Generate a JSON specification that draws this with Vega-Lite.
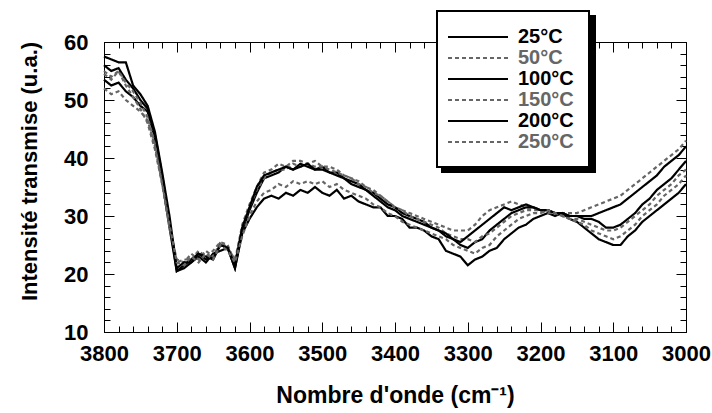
{
"$schema": "https://vega.github.io/schema/vega-lite/v6.json",
"width": 582, "height": 290,
"autosize": {"type": "none"},
"padding": {"left": 104, "top": 42, "right": 26, "bottom": 81},
"background": "white",
"config": {
  "font": "Liberation Sans",
  "view": {"stroke": null},
  "axis": {"grid": false, "tickColor": "#000", "domainColor": "#000", "domainWidth": 1, "tickWidth": 1, "labelFont": "Liberation Sans", "labelFontSize": 22, "labelFontWeight": "bold", "labelColor": "#000", "titleFont": "Liberation Sans", "titleFontWeight": "bold", "titleColor": "#000", "labelFlush": false, "labelOverlap": false},
  "legend": {"orient": "none", "symbolType": "M-3,0H3", "symbolSize": 400, "symbolStrokeWidth": 2, "labelFont": "Liberation Sans", "labelFontSize": 20, "labelFontWeight": "bold", "padding": 15, "rowPadding": 0, "symbolOffset": 15, "labelOffset": 29, "labelLimit": 0}
},
"data": {"values": [
{"T":"25°C","w":3800,"v":53.5},{"T":"25°C","w":3790,"v":52.5},{"T":"25°C","w":3780,"v":53},{"T":"25°C","w":3770,"v":51.5},{"T":"25°C","w":3760,"v":50.5},{"T":"25°C","w":3750,"v":49},{"T":"25°C","w":3740,"v":48},{"T":"25°C","w":3730,"v":43.5},{"T":"25°C","w":3720,"v":36},{"T":"25°C","w":3710,"v":28},{"T":"25°C","w":3700,"v":20.5},{"T":"25°C","w":3690,"v":21},{"T":"25°C","w":3680,"v":22},{"T":"25°C","w":3670,"v":23},{"T":"25°C","w":3660,"v":22},{"T":"25°C","w":3650,"v":23.5},{"T":"25°C","w":3640,"v":24},{"T":"25°C","w":3630,"v":24.5},{"T":"25°C","w":3620,"v":21},{"T":"25°C","w":3610,"v":27},{"T":"25°C","w":3600,"v":29.5},{"T":"25°C","w":3590,"v":31.5},{"T":"25°C","w":3580,"v":33},{"T":"25°C","w":3570,"v":33.5},{"T":"25°C","w":3560,"v":33},{"T":"25°C","w":3550,"v":34},{"T":"25°C","w":3540,"v":33.5},{"T":"25°C","w":3530,"v":34.5},{"T":"25°C","w":3520,"v":34},{"T":"25°C","w":3510,"v":35},{"T":"25°C","w":3500,"v":34},{"T":"25°C","w":3490,"v":33.5},{"T":"25°C","w":3480,"v":34.5},{"T":"25°C","w":3470,"v":33},{"T":"25°C","w":3460,"v":33.5},{"T":"25°C","w":3450,"v":32.5},{"T":"25°C","w":3440,"v":32},{"T":"25°C","w":3430,"v":31.5},{"T":"25°C","w":3420,"v":31.5},{"T":"25°C","w":3410,"v":30},{"T":"25°C","w":3400,"v":30},{"T":"25°C","w":3390,"v":29.5},{"T":"25°C","w":3380,"v":28},{"T":"25°C","w":3370,"v":28},{"T":"25°C","w":3360,"v":27.5},{"T":"25°C","w":3350,"v":26.5},{"T":"25°C","w":3340,"v":26},{"T":"25°C","w":3330,"v":24},{"T":"25°C","w":3320,"v":23.5},{"T":"25°C","w":3310,"v":23},{"T":"25°C","w":3300,"v":21.5},{"T":"25°C","w":3290,"v":22.5},{"T":"25°C","w":3280,"v":23},{"T":"25°C","w":3270,"v":24},{"T":"25°C","w":3260,"v":24.5},{"T":"25°C","w":3250,"v":26},{"T":"25°C","w":3240,"v":27},{"T":"25°C","w":3230,"v":28},{"T":"25°C","w":3220,"v":28.5},{"T":"25°C","w":3210,"v":29.5},{"T":"25°C","w":3200,"v":30},{"T":"25°C","w":3190,"v":30.5},{"T":"25°C","w":3180,"v":30},{"T":"25°C","w":3170,"v":30.5},{"T":"25°C","w":3160,"v":29.5},{"T":"25°C","w":3150,"v":29},{"T":"25°C","w":3140,"v":28},{"T":"25°C","w":3130,"v":27},{"T":"25°C","w":3120,"v":26},{"T":"25°C","w":3110,"v":25.5},{"T":"25°C","w":3100,"v":25},{"T":"25°C","w":3090,"v":25},{"T":"25°C","w":3080,"v":26.5},{"T":"25°C","w":3070,"v":27.5},{"T":"25°C","w":3060,"v":29},{"T":"25°C","w":3050,"v":30},{"T":"25°C","w":3040,"v":31},{"T":"25°C","w":3030,"v":32},{"T":"25°C","w":3020,"v":33},{"T":"25°C","w":3010,"v":34},{"T":"25°C","w":3000,"v":35.5},
{"T":"50°C","w":3800,"v":54.5},{"T":"50°C","w":3790,"v":53.5},{"T":"50°C","w":3780,"v":55},{"T":"50°C","w":3770,"v":52.5},{"T":"50°C","w":3760,"v":50.5},{"T":"50°C","w":3750,"v":48.5},{"T":"50°C","w":3740,"v":46},{"T":"50°C","w":3730,"v":41.5},{"T":"50°C","w":3720,"v":35.5},{"T":"50°C","w":3710,"v":28.5},{"T":"50°C","w":3700,"v":22},{"T":"50°C","w":3690,"v":22.5},{"T":"50°C","w":3680,"v":22.5},{"T":"50°C","w":3670,"v":24},{"T":"50°C","w":3660,"v":23},{"T":"50°C","w":3650,"v":24},{"T":"50°C","w":3640,"v":25.5},{"T":"50°C","w":3630,"v":25},{"T":"50°C","w":3620,"v":22},{"T":"50°C","w":3610,"v":28.5},{"T":"50°C","w":3600,"v":32},{"T":"50°C","w":3590,"v":35},{"T":"50°C","w":3580,"v":37.5},{"T":"50°C","w":3570,"v":38},{"T":"50°C","w":3560,"v":39},{"T":"50°C","w":3550,"v":38.5},{"T":"50°C","w":3540,"v":39.5},{"T":"50°C","w":3530,"v":39.5},{"T":"50°C","w":3520,"v":39},{"T":"50°C","w":3510,"v":39.5},{"T":"50°C","w":3500,"v":38.5},{"T":"50°C","w":3490,"v":38.5},{"T":"50°C","w":3480,"v":38},{"T":"50°C","w":3470,"v":37},{"T":"50°C","w":3460,"v":36.5},{"T":"50°C","w":3450,"v":36},{"T":"50°C","w":3440,"v":35},{"T":"50°C","w":3430,"v":34.5},{"T":"50°C","w":3420,"v":33.5},{"T":"50°C","w":3410,"v":32.5},{"T":"50°C","w":3400,"v":31.5},{"T":"50°C","w":3390,"v":31},{"T":"50°C","w":3380,"v":30.5},{"T":"50°C","w":3370,"v":30},{"T":"50°C","w":3360,"v":29.5},{"T":"50°C","w":3350,"v":29},{"T":"50°C","w":3340,"v":28.5},{"T":"50°C","w":3330,"v":28},{"T":"50°C","w":3320,"v":27.5},{"T":"50°C","w":3310,"v":27.5},{"T":"50°C","w":3300,"v":27.5},{"T":"50°C","w":3290,"v":28.5},{"T":"50°C","w":3280,"v":30},{"T":"50°C","w":3270,"v":31},{"T":"50°C","w":3260,"v":31.5},{"T":"50°C","w":3250,"v":32},{"T":"50°C","w":3240,"v":32.5},{"T":"50°C","w":3230,"v":32},{"T":"50°C","w":3220,"v":31.5},{"T":"50°C","w":3210,"v":31.5},{"T":"50°C","w":3200,"v":31},{"T":"50°C","w":3190,"v":31},{"T":"50°C","w":3180,"v":30.5},{"T":"50°C","w":3170,"v":30.5},{"T":"50°C","w":3160,"v":30.5},{"T":"50°C","w":3150,"v":30.5},{"T":"50°C","w":3140,"v":31},{"T":"50°C","w":3130,"v":31.5},{"T":"50°C","w":3120,"v":32},{"T":"50°C","w":3110,"v":32.5},{"T":"50°C","w":3100,"v":33},{"T":"50°C","w":3090,"v":33.5},{"T":"50°C","w":3080,"v":34.5},{"T":"50°C","w":3070,"v":35.5},{"T":"50°C","w":3060,"v":36.5},{"T":"50°C","w":3050,"v":37.5},{"T":"50°C","w":3040,"v":38.5},{"T":"50°C","w":3030,"v":39.5},{"T":"50°C","w":3020,"v":40.5},{"T":"50°C","w":3010,"v":41.5},{"T":"50°C","w":3000,"v":43},
{"T":"100°C","w":3800,"v":56},{"T":"100°C","w":3790,"v":55},{"T":"100°C","w":3780,"v":55.5},{"T":"100°C","w":3770,"v":53.5},{"T":"100°C","w":3760,"v":52},{"T":"100°C","w":3750,"v":50},{"T":"100°C","w":3740,"v":48.5},{"T":"100°C","w":3730,"v":44},{"T":"100°C","w":3720,"v":37},{"T":"100°C","w":3710,"v":29},{"T":"100°C","w":3700,"v":20.5},{"T":"100°C","w":3690,"v":21.5},{"T":"100°C","w":3680,"v":22.5},{"T":"100°C","w":3670,"v":23.5},{"T":"100°C","w":3660,"v":22.5},{"T":"100°C","w":3650,"v":23},{"T":"100°C","w":3640,"v":25},{"T":"100°C","w":3630,"v":24.5},{"T":"100°C","w":3620,"v":21},{"T":"100°C","w":3610,"v":27.5},{"T":"100°C","w":3600,"v":31},{"T":"100°C","w":3590,"v":34},{"T":"100°C","w":3580,"v":36.5},{"T":"100°C","w":3570,"v":37},{"T":"100°C","w":3560,"v":37.5},{"T":"100°C","w":3550,"v":38.5},{"T":"100°C","w":3540,"v":38},{"T":"100°C","w":3530,"v":39},{"T":"100°C","w":3520,"v":38.5},{"T":"100°C","w":3510,"v":38},{"T":"100°C","w":3500,"v":38.5},{"T":"100°C","w":3490,"v":37.5},{"T":"100°C","w":3480,"v":37.5},{"T":"100°C","w":3470,"v":36.5},{"T":"100°C","w":3460,"v":36},{"T":"100°C","w":3450,"v":35.5},{"T":"100°C","w":3440,"v":34.5},{"T":"100°C","w":3430,"v":34},{"T":"100°C","w":3420,"v":33},{"T":"100°C","w":3410,"v":32},{"T":"100°C","w":3400,"v":31.5},{"T":"100°C","w":3390,"v":30.5},{"T":"100°C","w":3380,"v":30},{"T":"100°C","w":3370,"v":29.5},{"T":"100°C","w":3360,"v":29},{"T":"100°C","w":3350,"v":28},{"T":"100°C","w":3340,"v":27.5},{"T":"100°C","w":3330,"v":26.5},{"T":"100°C","w":3320,"v":26},{"T":"100°C","w":3310,"v":25},{"T":"100°C","w":3300,"v":24.5},{"T":"100°C","w":3290,"v":25.5},{"T":"100°C","w":3280,"v":26},{"T":"100°C","w":3270,"v":27.5},{"T":"100°C","w":3260,"v":28.5},{"T":"100°C","w":3250,"v":29.5},{"T":"100°C","w":3240,"v":30.5},{"T":"100°C","w":3230,"v":31},{"T":"100°C","w":3220,"v":31.5},{"T":"100°C","w":3210,"v":31.5},{"T":"100°C","w":3200,"v":31},{"T":"100°C","w":3190,"v":31},{"T":"100°C","w":3180,"v":30.5},{"T":"100°C","w":3170,"v":30.5},{"T":"100°C","w":3160,"v":30},{"T":"100°C","w":3150,"v":30},{"T":"100°C","w":3140,"v":29.5},{"T":"100°C","w":3130,"v":29.5},{"T":"100°C","w":3120,"v":29},{"T":"100°C","w":3110,"v":28},{"T":"100°C","w":3100,"v":28},{"T":"100°C","w":3090,"v":28.5},{"T":"100°C","w":3080,"v":29.5},{"T":"100°C","w":3070,"v":30.5},{"T":"100°C","w":3060,"v":32},{"T":"100°C","w":3050,"v":33},{"T":"100°C","w":3040,"v":34.5},{"T":"100°C","w":3030,"v":35.5},{"T":"100°C","w":3020,"v":36.5},{"T":"100°C","w":3010,"v":38},{"T":"100°C","w":3000,"v":39.5},
{"T":"150°C","w":3800,"v":55},{"T":"150°C","w":3790,"v":54},{"T":"150°C","w":3780,"v":55},{"T":"150°C","w":3770,"v":53},{"T":"150°C","w":3760,"v":51.5},{"T":"150°C","w":3750,"v":49.5},{"T":"150°C","w":3740,"v":47},{"T":"150°C","w":3730,"v":42.5},{"T":"150°C","w":3720,"v":36},{"T":"150°C","w":3710,"v":28},{"T":"150°C","w":3700,"v":22.5},{"T":"150°C","w":3690,"v":22},{"T":"150°C","w":3680,"v":23.5},{"T":"150°C","w":3670,"v":22.5},{"T":"150°C","w":3660,"v":24},{"T":"150°C","w":3650,"v":23},{"T":"150°C","w":3640,"v":25.5},{"T":"150°C","w":3630,"v":24.5},{"T":"150°C","w":3620,"v":22.5},{"T":"150°C","w":3610,"v":28},{"T":"150°C","w":3600,"v":31.5},{"T":"150°C","w":3590,"v":34.5},{"T":"150°C","w":3580,"v":36.5},{"T":"150°C","w":3570,"v":37.5},{"T":"150°C","w":3560,"v":38},{"T":"150°C","w":3550,"v":38},{"T":"150°C","w":3540,"v":39},{"T":"150°C","w":3530,"v":38.5},{"T":"150°C","w":3520,"v":39},{"T":"150°C","w":3510,"v":38.5},{"T":"150°C","w":3500,"v":38.5},{"T":"150°C","w":3490,"v":38},{"T":"150°C","w":3480,"v":37.5},{"T":"150°C","w":3470,"v":37},{"T":"150°C","w":3460,"v":36.5},{"T":"150°C","w":3450,"v":35.5},{"T":"150°C","w":3440,"v":35},{"T":"150°C","w":3430,"v":34},{"T":"150°C","w":3420,"v":33.5},{"T":"150°C","w":3410,"v":32.5},{"T":"150°C","w":3400,"v":31.5},{"T":"150°C","w":3390,"v":31},{"T":"150°C","w":3380,"v":30},{"T":"150°C","w":3370,"v":29.5},{"T":"150°C","w":3360,"v":29},{"T":"150°C","w":3350,"v":28.5},{"T":"150°C","w":3340,"v":28},{"T":"150°C","w":3330,"v":27},{"T":"150°C","w":3320,"v":26.5},{"T":"150°C","w":3310,"v":26},{"T":"150°C","w":3300,"v":26},{"T":"150°C","w":3290,"v":25.5},{"T":"150°C","w":3280,"v":26.5},{"T":"150°C","w":3270,"v":27},{"T":"150°C","w":3260,"v":28},{"T":"150°C","w":3250,"v":29},{"T":"150°C","w":3240,"v":30},{"T":"150°C","w":3230,"v":30.5},{"T":"150°C","w":3220,"v":31},{"T":"150°C","w":3210,"v":31},{"T":"150°C","w":3200,"v":31},{"T":"150°C","w":3190,"v":30.5},{"T":"150°C","w":3180,"v":30.5},{"T":"150°C","w":3170,"v":30},{"T":"150°C","w":3160,"v":29.5},{"T":"150°C","w":3150,"v":29.5},{"T":"150°C","w":3140,"v":29},{"T":"150°C","w":3130,"v":28.5},{"T":"150°C","w":3120,"v":28},{"T":"150°C","w":3110,"v":27.5},{"T":"150°C","w":3100,"v":27.5},{"T":"150°C","w":3090,"v":28},{"T":"150°C","w":3080,"v":29},{"T":"150°C","w":3070,"v":30},{"T":"150°C","w":3060,"v":31},{"T":"150°C","w":3050,"v":32},{"T":"150°C","w":3040,"v":33.5},{"T":"150°C","w":3030,"v":34.5},{"T":"150°C","w":3020,"v":35.5},{"T":"150°C","w":3010,"v":37},{"T":"150°C","w":3000,"v":38},
{"T":"200°C","w":3800,"v":57.5},{"T":"200°C","w":3790,"v":57},{"T":"200°C","w":3780,"v":56.5},{"T":"200°C","w":3770,"v":56.5},{"T":"200°C","w":3760,"v":52.5},{"T":"200°C","w":3750,"v":51},{"T":"200°C","w":3740,"v":49},{"T":"200°C","w":3730,"v":44.5},{"T":"200°C","w":3720,"v":37.5},{"T":"200°C","w":3710,"v":30},{"T":"200°C","w":3700,"v":21},{"T":"200°C","w":3690,"v":22},{"T":"200°C","w":3680,"v":22},{"T":"200°C","w":3670,"v":23.5},{"T":"200°C","w":3660,"v":23},{"T":"200°C","w":3650,"v":22.5},{"T":"200°C","w":3640,"v":25},{"T":"200°C","w":3630,"v":24.5},{"T":"200°C","w":3620,"v":21.5},{"T":"200°C","w":3610,"v":28},{"T":"200°C","w":3600,"v":31.5},{"T":"200°C","w":3590,"v":35},{"T":"200°C","w":3580,"v":37},{"T":"200°C","w":3570,"v":37.5},{"T":"200°C","w":3560,"v":38},{"T":"200°C","w":3550,"v":38.5},{"T":"200°C","w":3540,"v":38},{"T":"200°C","w":3530,"v":38.5},{"T":"200°C","w":3520,"v":39},{"T":"200°C","w":3510,"v":38},{"T":"200°C","w":3500,"v":38},{"T":"200°C","w":3490,"v":37.5},{"T":"200°C","w":3480,"v":37},{"T":"200°C","w":3470,"v":36.5},{"T":"200°C","w":3460,"v":35.5},{"T":"200°C","w":3450,"v":35},{"T":"200°C","w":3440,"v":34.5},{"T":"200°C","w":3430,"v":33.5},{"T":"200°C","w":3420,"v":32.5},{"T":"200°C","w":3410,"v":31.5},{"T":"200°C","w":3400,"v":31},{"T":"200°C","w":3390,"v":30},{"T":"200°C","w":3380,"v":29.5},{"T":"200°C","w":3370,"v":29},{"T":"200°C","w":3360,"v":28.5},{"T":"200°C","w":3350,"v":28},{"T":"200°C","w":3340,"v":27.5},{"T":"200°C","w":3330,"v":27},{"T":"200°C","w":3320,"v":26},{"T":"200°C","w":3310,"v":25.5},{"T":"200°C","w":3300,"v":26.5},{"T":"200°C","w":3290,"v":27.5},{"T":"200°C","w":3280,"v":28.5},{"T":"200°C","w":3270,"v":29.5},{"T":"200°C","w":3260,"v":30.5},{"T":"200°C","w":3250,"v":31.5},{"T":"200°C","w":3240,"v":31},{"T":"200°C","w":3230,"v":31.5},{"T":"200°C","w":3220,"v":32},{"T":"200°C","w":3210,"v":31.5},{"T":"200°C","w":3200,"v":31},{"T":"200°C","w":3190,"v":31},{"T":"200°C","w":3180,"v":30.5},{"T":"200°C","w":3170,"v":30.5},{"T":"200°C","w":3160,"v":30},{"T":"200°C","w":3150,"v":30},{"T":"200°C","w":3140,"v":30},{"T":"200°C","w":3130,"v":30},{"T":"200°C","w":3120,"v":30.5},{"T":"200°C","w":3110,"v":31},{"T":"200°C","w":3100,"v":31.5},{"T":"200°C","w":3090,"v":32},{"T":"200°C","w":3080,"v":33},{"T":"200°C","w":3070,"v":34},{"T":"200°C","w":3060,"v":35},{"T":"200°C","w":3050,"v":36},{"T":"200°C","w":3040,"v":37},{"T":"200°C","w":3030,"v":38.5},{"T":"200°C","w":3020,"v":39.5},{"T":"200°C","w":3010,"v":40.5},{"T":"200°C","w":3000,"v":42},
{"T":"250°C","w":3800,"v":52},{"T":"250°C","w":3790,"v":51},{"T":"250°C","w":3780,"v":51.5},{"T":"250°C","w":3770,"v":50},{"T":"250°C","w":3760,"v":49},{"T":"250°C","w":3750,"v":48},{"T":"250°C","w":3740,"v":46.5},{"T":"250°C","w":3730,"v":42},{"T":"250°C","w":3720,"v":35.5},{"T":"250°C","w":3710,"v":28.5},{"T":"250°C","w":3700,"v":22},{"T":"250°C","w":3690,"v":21.5},{"T":"250°C","w":3680,"v":23},{"T":"250°C","w":3670,"v":22},{"T":"250°C","w":3660,"v":23.5},{"T":"250°C","w":3650,"v":22.5},{"T":"250°C","w":3640,"v":25},{"T":"250°C","w":3630,"v":24},{"T":"250°C","w":3620,"v":22},{"T":"250°C","w":3610,"v":26.5},{"T":"250°C","w":3600,"v":30},{"T":"250°C","w":3590,"v":32.5},{"T":"250°C","w":3580,"v":34},{"T":"250°C","w":3570,"v":34.5},{"T":"250°C","w":3560,"v":35.5},{"T":"250°C","w":3550,"v":35},{"T":"250°C","w":3540,"v":36},{"T":"250°C","w":3530,"v":35.5},{"T":"250°C","w":3520,"v":36},{"T":"250°C","w":3510,"v":35.5},{"T":"250°C","w":3500,"v":36},{"T":"250°C","w":3490,"v":35},{"T":"250°C","w":3480,"v":35.5},{"T":"250°C","w":3470,"v":34.5},{"T":"250°C","w":3460,"v":34},{"T":"250°C","w":3450,"v":33.5},{"T":"250°C","w":3440,"v":33},{"T":"250°C","w":3430,"v":32},{"T":"250°C","w":3420,"v":31.5},{"T":"250°C","w":3410,"v":30.5},{"T":"250°C","w":3400,"v":30},{"T":"250°C","w":3390,"v":29},{"T":"250°C","w":3380,"v":28.5},{"T":"250°C","w":3370,"v":28},{"T":"250°C","w":3360,"v":27.5},{"T":"250°C","w":3350,"v":27},{"T":"250°C","w":3340,"v":26.5},{"T":"250°C","w":3330,"v":26},{"T":"250°C","w":3320,"v":25},{"T":"250°C","w":3310,"v":24.5},{"T":"250°C","w":3300,"v":24},{"T":"250°C","w":3290,"v":23.5},{"T":"250°C","w":3280,"v":24.5},{"T":"250°C","w":3270,"v":25},{"T":"250°C","w":3260,"v":26.5},{"T":"250°C","w":3250,"v":27.5},{"T":"250°C","w":3240,"v":28.5},{"T":"250°C","w":3230,"v":29.5},{"T":"250°C","w":3220,"v":30},{"T":"250°C","w":3210,"v":30.5},{"T":"250°C","w":3200,"v":30.5},{"T":"250°C","w":3190,"v":31},{"T":"250°C","w":3180,"v":30.5},{"T":"250°C","w":3170,"v":30},{"T":"250°C","w":3160,"v":29.5},{"T":"250°C","w":3150,"v":29},{"T":"250°C","w":3140,"v":28.5},{"T":"250°C","w":3130,"v":27.5},{"T":"250°C","w":3120,"v":27},{"T":"250°C","w":3110,"v":26.5},{"T":"250°C","w":3100,"v":26},{"T":"250°C","w":3090,"v":26.5},{"T":"250°C","w":3080,"v":27.5},{"T":"250°C","w":3070,"v":28.5},{"T":"250°C","w":3060,"v":30},{"T":"250°C","w":3050,"v":31},{"T":"250°C","w":3040,"v":32},{"T":"250°C","w":3030,"v":33.5},{"T":"250°C","w":3020,"v":34.5},{"T":"250°C","w":3010,"v":35.5},{"T":"250°C","w":3000,"v":37}
]},
"layer": [
  {
    "mark": {"type": "line", "strokeWidth": 2.2, "strokeCap": "butt"},
    "encoding": {
      "x": {"field": "w", "type": "quantitative", "scale": {"domain": [3000, 3800], "reverse": true, "nice": false, "zero": false},
        "axis": {"orient": "bottom", "values": [3800,3700,3600,3500,3400,3300,3200,3100,3000], "format": "d", "tickSize": -10, "labelPadding": 21, "title": "Nombre d'onde (cm⁻¹)", "titleFontSize": 23, "titlePadding": 20, "domain": true}},
      "y": {"field": "v", "type": "quantitative", "scale": {"domain": [10, 60], "nice": false, "zero": false},
        "axis": {"orient": "left", "values": [10,20,30,40,50,60], "format": "d", "tickSize": -10, "labelPadding": 26, "title": "Intensité transmise (u.a.)", "titleFontSize": 22, "titlePadding": 22, "titleY": 129, "domain": true}},
      "color": {"field": "T", "type": "nominal",
        "scale": {"domain": ["25°C","50°C","100°C","150°C","200°C","250°C"], "range": ["#000000","#666666","#000000","#666666","#000000","#666666"]},
        "legend": {"title": null, "legendX": 333, "legendY": -31, "fillColor": "#ffffff", "strokeColor": "#000000", "zindex": 2,
          "labelExpr": "datum.label + '\u00a0\u00a0\u00a0'",
          "encode": {"legend": {"update": {"strokeWidth": {"value": 2}}},
                     "labels": {"update": {"fill": {"signal": "indexof(['50°C','150°C','250°C'], datum.label) >= 0 ? '#666666' : '#000000'"}}}}}},
      "strokeDash": {"field": "T", "type": "nominal",
        "scale": {"domain": ["25°C","50°C","100°C","150°C","200°C","250°C"], "range": [[1,0],[4,3],[1,0],[4,3],[1,0],[4,3]]},
        "legend": {"title": null, "legendX": 333, "legendY": -31, "fillColor": "#ffffff", "strokeColor": "#000000", "zindex": 2}}
    }
  },
  {
    "transform": [{"filter": "datum.w == 3800"}],
    "mark": {"type": "point", "opacity": 0, "filled": true},
    "encoding": {
      "x": {"field": "w", "type": "quantitative",
        "axis": {"orient": "bottom", "values": [3800,3780,3760,3740,3720,3700,3680,3660,3640,3620,3600,3580,3560,3540,3520,3500,3480,3460,3440,3420,3400,3380,3360,3340,3320,3300,3280,3260,3240,3220,3200,3180,3160,3140,3120,3100,3080,3060,3040,3020,3000], "tickSize": -6, "labels": false, "domain": false, "title": null}},
      "y": {"field": "v", "type": "quantitative",
        "axis": {"orient": "left", "values": [10,12,14,16,18,20,22,24,26,28,30,32,34,36,38,40,42,44,46,48,50,52,54,56,58,60], "tickSize": -6, "labels": false, "domain": false, "title": null}},
      "fill": {"field": "T", "type": "nominal",
        "scale": {"domain": ["250°C","200°C","150°C","100°C","50°C","25°C"], "range": ["#000000"]},
        "legend": {"title": null, "legendX": 338, "legendY": -26, "fillColor": "#000000", "strokeColor": "#000000", "symbolOpacity": 0, "labelOpacity": 0, "labelExpr": "''", "labelOffset": 86, "zindex": 1,
          "encode": {"legend": {"update": {"strokeWidth": {"value": 2}}}}}}
    }
  },
  {
    "transform": [{"filter": "datum.w == 3800"}],
    "mark": {"type": "point", "opacity": 0},
    "encoding": {
      "x": {"field": "w", "type": "quantitative",
        "axis": {"orient": "top", "values": [3800,3700,3600,3500,3400,3300,3200,3100,3000], "tickSize": -10, "labels": false, "domain": true, "title": null}},
      "y": {"field": "v", "type": "quantitative",
        "axis": {"orient": "right", "values": [10,20,30,40,50,60], "tickSize": -10, "labels": false, "domain": true, "title": null}}
    }
  },
  {
    "transform": [{"filter": "datum.w == 3800"}],
    "mark": {"type": "point", "opacity": 0},
    "encoding": {
      "x": {"field": "w", "type": "quantitative",
        "axis": {"orient": "top", "values": [3800,3780,3760,3740,3720,3700,3680,3660,3640,3620,3600,3580,3560,3540,3520,3500,3480,3460,3440,3420,3400,3380,3360,3340,3320,3300,3280,3260,3240,3220,3200,3180,3160,3140,3120,3100,3080,3060,3040,3020,3000], "tickSize": -6, "labels": false, "domain": false, "title": null}},
      "y": {"field": "v", "type": "quantitative",
        "axis": {"orient": "right", "values": [10,12,14,16,18,20,22,24,26,28,30,32,34,36,38,40,42,44,46,48,50,52,54,56,58,60], "tickSize": -6, "labels": false, "domain": false, "title": null}}
    }
  }
],
"resolve": {"axis": {"x": "independent", "y": "independent"}}
}
